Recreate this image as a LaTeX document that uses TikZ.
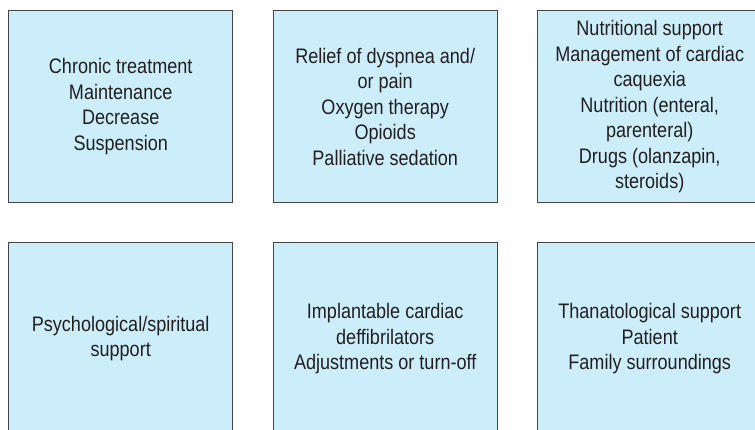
\documentclass[tikz,border=0pt]{standalone}
\usepackage{fontspec}
\setmainfont{Liberation Sans}[FakeStretch=0.86]
\definecolor{boxfill}{RGB}{204,237,250}
\definecolor{boxline}{RGB}{70,70,72}
\definecolor{textcol}{RGB}{35,31,32}
\begin{document}
\begin{tikzpicture}[x=1pt,y=-1pt,
  infobox/.style={draw=boxline, line width=1.4pt, fill=boxfill, rectangle,
    minimum width=224pt, minimum height=192pt, inner sep=0pt,
    align=center, text=textcol,
    font=\fontsize{21pt}{25.5pt}\selectfont, anchor=north west}]
\useasboundingbox (0,0) rectangle (755,429);
\begin{scope}
\clip (0,0) rectangle (755,429);
% top row
\node[infobox] (chronic) at (8,10) {Chronic treatment\\Maintenance\\Decrease\\Suspension};
\node[infobox] (relief) at (272.5,10) {Relief of dyspnea and/\\or pain\\Oxygen therapy\\Opioids\\Palliative sedation};
\node[infobox] (nutrition) at (537,10) {Nutritional support\\Management of cardiac\\caquexia\\Nutrition (enteral,\\parenteral)\\Drugs (olanzapin,\\steroids)};
% bottom row
\node[infobox] (psych) at (8,242) {Psychological/spiritual\\support};
\node[infobox] (icd) at (272.5,242) {Implantable cardiac\\deffibrilators\\Adjustments or turn-off};
\node[infobox] (thanat) at (537,242) {Thanatological support\\Patient\\Family surroundings};
\end{scope}
\end{tikzpicture}
\end{document}
